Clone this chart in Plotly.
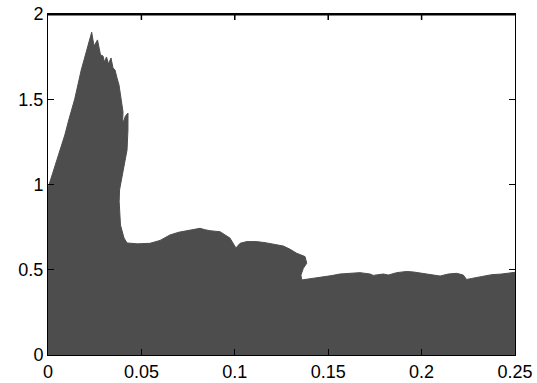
import plotly.graph_objects as go

# Outline of the upper envelope (x, y), in drawing order
env_x = [0.0, 0.0032, 0.00626, 0.0090, 0.0111, 0.0143, 0.0178, 0.0210, 0.02339,
         0.02463, 0.02650, 0.02811, 0.02944, 0.03025, 0.03132, 0.03239, 0.03373,
         0.03480, 0.03587, 0.03694, 0.03801, 0.03881, 0.03961, 0.04015, 0.03988,
         0.04149, 0.04283, 0.04299, 0.0428, 0.0423, 0.0401, 0.0383, 0.0381, 0.0383,
         0.0388, 0.0407, 0.0423, 0.0480, 0.0546, 0.0600, 0.0653, 0.0700, 0.0742,
         0.0790, 0.0814, 0.0840, 0.0867, 0.0921, 0.0974, 0.1006, 0.1028, 0.1064,
         0.1117, 0.1162, 0.1206, 0.1260, 0.1296, 0.1331, 0.1376, 0.1385, 0.1367,
         0.1354, 0.1358, 0.1385, 0.1430, 0.1474, 0.1520, 0.1563, 0.1617, 0.1670,
         0.1724, 0.1741, 0.1795, 0.1822, 0.1867, 0.1920, 0.1956, 0.2001, 0.2054,
         0.2099, 0.2143, 0.2188, 0.2223, 0.2241, 0.2268, 0.2322, 0.2375, 0.2429,
         0.2491, 0.2500]
env_y = [0.98, 1.09, 1.185, 1.29, 1.378, 1.501, 1.672, 1.80, 1.893,
         1.812, 1.848, 1.760, 1.754, 1.718, 1.748, 1.707, 1.742,
         1.683, 1.672, 1.625, 1.584, 1.525, 1.472, 1.425, 1.355,
         1.402, 1.419, 1.349, 1.320, 1.202, 1.085, 0.968, 0.900, 0.850,
         0.762, 0.686, 0.657, 0.652, 0.655, 0.672, 0.704, 0.720, 0.729,
         0.738, 0.743, 0.735, 0.729, 0.723, 0.686, 0.628, 0.655, 0.665,
         0.665, 0.659, 0.651, 0.639, 0.620, 0.597, 0.577, 0.538, 0.509,
         0.469, 0.440, 0.444, 0.452, 0.459, 0.466, 0.475, 0.479, 0.483,
         0.475, 0.467, 0.475, 0.469, 0.483, 0.490, 0.487, 0.479, 0.467,
         0.463, 0.475, 0.479, 0.469, 0.443, 0.449, 0.459, 0.471, 0.475,
         0.483, 0.485]

x_ticks = [0, 0.05, 0.1, 0.15, 0.2, 0.25]
x_tick_labels = ["0", "0.05", "0.1", "0.15", "0.2", "0.25"]
y_ticks = [0, 0.5, 1, 1.5, 2]
y_tick_labels = ["0", "0.5", "1", "1.5", "2"]

fill_color = "#4d4d4d"

fig = go.Figure()
fig.add_trace(go.Scatter(
    x=env_x, y=env_y, mode="lines", fill="tozeroy",
    line=dict(color=fill_color, width=1), fillcolor=fill_color,
    hoverinfo="skip", showlegend=False,
))

axis_common = dict(
    showline=True, linecolor="black", linewidth=1, mirror="ticks",
    ticks="inside", ticklen=6, tickcolor="black", tickwidth=1,
    showgrid=False, zeroline=False,
    tickfont=dict(family="Liberation Sans, Arial, sans-serif", size=18, color="black"),
)

fig.update_layout(
    width=537, height=383,
    margin=dict(l=48, r=22, t=14, b=28, autoexpand=False),
    paper_bgcolor="white", plot_bgcolor="white",
    xaxis=dict(range=[0, 0.25], tickvals=x_ticks, ticktext=x_tick_labels, **axis_common),
    yaxis=dict(range=[0, 2], tickvals=y_ticks, ticktext=y_tick_labels, **axis_common),
)

# top border line and mirrored top ticks (explicit, as the border frame)
plot_h = 383 - 14 - 28
top_y = 1 - 0.5 / plot_h
fig.add_shape(type="line", xref="paper", yref="paper", x0=0, x1=1, y0=top_y, y1=top_y,
              line=dict(color="black", width=2), layer="above")
for xv in x_ticks[1:-1]:
    fig.add_shape(type="line", xref="x", yref="paper", x0=xv, x1=xv,
                  y0=1, y1=1 - 6 / plot_h,
                  line=dict(color="black", width=1.5), layer="above")

fig.write_html(
    "out.html",
    config={"displayModeBar": False, "staticPlot": True},
    post_script="document.body.style.margin='0';document.body.style.overflow='hidden';",
)
